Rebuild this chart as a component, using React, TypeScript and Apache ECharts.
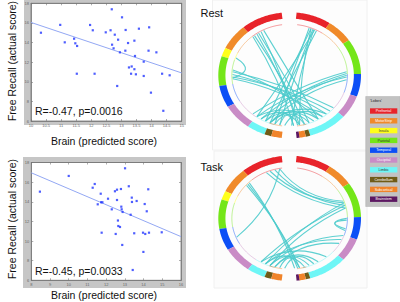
import React, { useEffect, useRef } from "react";
import * as echarts from "echarts";

// ---------- data ----------
const restPoints: number[][] = [
  [10.33, 15.0], [10.97, 15.8], [11.12, 14.02], [11.43, 14.39], [11.47, 13.92], [11.53, 13.65],
  [11.96, 15.79], [12.05, 15.25], [12.48, 15.04], [12.64, 15.25], [12.68, 17.39], [12.78, 14.8],
  [12.69, 13.78], [12.74, 13.41], [12.89, 14.29], [12.95, 13.0], [13.02, 16.57], [13.13, 13.17],
  [13.14, 15.28], [13.22, 13.95], [13.43, 14.19], [13.45, 12.63], [13.58, 15.41], [13.74, 12.05],
  [13.92, 15.55], [13.9, 13.17], [14.16, 13.0], [13.25, 11.46], [13.34, 11.56], [13.43, 11.28],
  [13.32, 10.82], [13.48, 10.76], [14.35, 10.82], [11.52, 10.82], [12.11, 10.82], [13.74, 10.59],
  [14.6, 10.66], [12.86, 9.57], [13.98, 8.89], [14.39, 7.04],
];
const restFit: number[][] = [[10, 16.05], [15, 10.9]];
const restStat = "R=-0.47, p=0.0016";

const taskPoints: number[][] = [
  [8.46, 15.03], [10.0, 16.63], [11.28, 15.43], [11.39, 15.81], [11.71, 14.82], [11.55, 13.74],
  [11.73, 13.95], [11.8, 13.95], [12.1, 14.31], [12.3, 13.23], [12.47, 15.07], [12.58, 15.23],
  [12.58, 14.18], [12.79, 15.3], [12.81, 13.5], [12.83, 13.23], [12.88, 12.96], [13.01, 17.41],
  [13.21, 15.58], [13.37, 14.42], [13.38, 13.98], [13.31, 12.68], [13.63, 14.08], [14.06, 13.77],
  [14.17, 13.03], [14.25, 15.27], [12.63, 12.09], [12.65, 11.53], [12.74, 11.43], [11.76, 10.85],
  [12.51, 10.72], [13.5, 10.79], [13.97, 10.85], [14.09, 10.72], [14.29, 10.85], [14.97, 10.89],
  [12.86, 9.6], [13.99, 8.89], [13.42, 7.05],
];
const taskFit: number[][] = [[8, 16.95], [16, 10.45]];
const taskStat = "R=-0.45, p=0.0033";

const yTitle = "Free Recall (actual score)";
const xTitle = "Brain (predicted score)";
const panelTitles = ["Rest", "Task"];

const lobeNames = ["Prefrontal", "MotorStrip", "Insula", "Parietal", "Temporal", "Occipital", "Limbic", "Cerebellum", "Subcortical", "Brainstem"];
const lobeColors = ["#e8232a", "#f08a2a", "#ffff1a", "#74e619", "#0c4ff6", "#c98cc6", "#6ef6f6", "#6f5b17", "#f0842a", "#5c1761"];
const lobeTextColors = ["#fff", "#fff", "#333", "#333", "#fff", "#fff", "#333", "#fff", "#fff", "#fff"];
const legendTitle = "'Lobes'";

// ring layout: angles in degrees clockwise from top
const leftEdges = [353.6, 319.5, 295.7, 287.5, 260.2, 240, 215.6, 200.6, 195, 186.4];
const leftLobes = [0, 1, 2, 3, 4, 5, 6, 7, 8];
const rightEdges = [5.6, 34.1, 56.2, 88.8, 109.7, 131.1, 163.2, 166.8, 172, 174.4];
const rightLobes = [0, 1, 3, 4, 5, 6, 7, 8, 9];

const restChords: number[][] = [
  [322, 165], [325, 170], [327, 160], [330, 172], [333, 150], [320, 176],
  [20, 195], [22, 205], [24, 190], [26, 215], [28, 200], [22, 170], [25, 178],
  [290, 267],
  [268, 135], [271, 140], [274, 130], [266, 145], [276, 150],
  [88, 210], [92, 215], [90, 205], [86, 220], [95, 200],
  [150, 200], [160, 205], [165, 195], [170, 210], [155, 215], [176, 190], [145, 185], [140, 200],
];
const taskChords: number[][] = [
  [313, 172], [315, 175], [311, 170],
  [340, 72], [345, 75], [350, 70], [336, 78],
  [72, 205], [75, 210], [78, 200],
  [248, 350],
  [92, 102], [90, 104],
  [200, 160], [195, 150], [205, 165], [210, 140], [190, 170], [185, 155],
  [200, 110], [205, 115], [195, 120],
];

// ---------- helpers ----------
const FONT = "Liberation Sans, Arial, sans-serif";
const R_OUT = 1.0;
const R_IN = 0.9;
const R_THIN = 0.81;
const R_CH = 0.8;
const K = 0.6;

function ringData() {
  const d: number[][] = [];
  for (let i = 0; i < leftLobes.length; i++) d.push([leftEdges[i], leftEdges[i + 1], leftLobes[i]]);
  for (let i = 0; i < rightLobes.length; i++) d.push([rightEdges[i], rightEdges[i + 1], rightLobes[i]]);
  return d;
}

function pt(api: any, deg: number, r: number) {
  const t = (deg * Math.PI) / 180;
  return api.coord([r * Math.sin(t), r * Math.cos(t)]);
}

function ringItem(_p: any, api: any) {
  const a1 = api.value(0), a2 = api.value(1), lobe = api.value(2);
  const n = Math.max(2, Math.ceil(Math.abs(a2 - a1)));
  const poly: number[][] = [];
  for (let i = 0; i <= n; i++) poly.push(pt(api, a1 + ((a2 - a1) * i) / n, R_OUT));
  for (let i = n; i >= 0; i--) poly.push(pt(api, a1 + ((a2 - a1) * i) / n, R_IN));
  const clamp = (a: number) => (a < 180 ? Math.min(172.5, Math.max(7.5, a)) : Math.min(352.5, Math.max(187.5, a)));
  const b1 = clamp(a1), b2 = clamp(a2);
  const thin: number[][] = [];
  const m = Math.max(2, Math.ceil(Math.abs(b2 - b1)));
  for (let i = 0; i <= m; i++) thin.push(pt(api, b1 + ((b2 - b1) * i) / m, R_THIN));
  const col = lobeColors[lobe];
  return {
    type: "group",
    children: [
      { type: "polygon", shape: { points: poly }, style: { fill: col, stroke: null } },
      { type: "polyline", shape: { points: thin }, style: { stroke: col, fill: null, lineWidth: 1, opacity: 0.45 } },
    ],
  };
}

function chordItem(_p: any, api: any) {
  const ta = (api.value(0) * Math.PI) / 180;
  const tb = (api.value(1) * Math.PI) / 180;
  const ua = [Math.sin(ta), Math.cos(ta)];
  const ub = [Math.sin(tb), Math.cos(tb)];
  const p1 = api.coord([R_CH * ua[0], R_CH * ua[1]]);
  const p2 = api.coord([R_CH * ub[0], R_CH * ub[1]]);
  const c = api.coord([((ua[0] + ub[0]) / 2) * K * R_CH, ((ua[1] + ub[1]) / 2) * K * R_CH]);
  return {
    type: "bezierCurve",
    shape: { x1: p1[0], y1: p1[1], x2: p2[0], y2: p2[1], cpx1: c[0], cpy1: c[1] },
    style: { stroke: "#4ccbcc", fill: null, lineWidth: 1.1, opacity: 0.9 },
  };
}

function scatterAxes(gridIndex: number, min: number, max: number, interval: number, isX: boolean) {
  const common = {
    gridIndex, type: "value", min, max, interval,
    axisLine: { show: true, lineStyle: { color: "#777", width: 0.8 } },
    axisTick: { show: true, inside: true, length: 2, lineStyle: { color: "#777", width: 0.6 } },
    splitLine: { show: false },
  };
  return [
    { ...common, position: isX ? "bottom" : "left", axisLabel: { show: true, fontSize: 4, color: "#666", margin: 2, fontFamily: FONT } },
    { ...common, position: isX ? "top" : "right", axisLabel: { show: false } },
  ];
}

function hiddenAxis(gridIndex: number) {
  return { gridIndex, type: "value", min: -1, max: 1, show: false, splitLine: { show: false } };
}

export default function App() {
  const ref = useRef<HTMLDivElement>(null);
  useEffect(() => {
    if (!ref.current) return;
    const chart = echarts.init(ref.current, null, { renderer: "svg" });
    const txt = (text: string, x: number, y: number, size: number, extra: any = {}) => ({
      type: "text", x, y, z: 20,
      style: { text, fontSize: size, fontFamily: FONT, fill: "#111", align: "left", verticalAlign: "middle", ...(extra.style || {}) },
      ...(extra.el || {}),
    });

    const legendItems: any[] = [];
    lobeNames.forEach((name, i) => {
      const y = 108.3 + i * 9.8;
      legendItems.push({ type: "rect", z: 21, shape: { x: 370, y, width: 27.3, height: 5.4 }, style: { fill: lobeColors[i] } });
      legendItems.push({
        type: "text", z: 22, x: 383.6, y: y + 2.8,
        style: { text: name, fontSize: 3.6, fontFamily: FONT, fill: lobeTextColors[i], align: "center", verticalAlign: "middle" },
      });
    });

    const option: any = {
      animation: false,
      grid: [
        { left: 31, top: 3.3, width: 150.7, height: 117.7, show: true, backgroundColor: "#fff", borderColor: "#777", borderWidth: 0.8 },
        { left: 31.3, top: 162.5, width: 149.7, height: 117.8, show: true, backgroundColor: "#fff", borderColor: "#777", borderWidth: 0.8 },
        { left: 218.3, top: 12.3, width: 142.7, height: 126, show: false },
        { left: 218.3, top: 155.7, width: 142.7, height: 125.3, show: false },
      ],
      xAxis: [
        ...scatterAxes(0, 10, 15, 0.5, true),
        ...scatterAxes(1, 8, 16, 1, true),
        hiddenAxis(2),
        hiddenAxis(3),
      ],
      yAxis: [
        ...scatterAxes(0, 6, 18, 2, false),
        ...scatterAxes(1, 6, 18, 2, false),
        hiddenAxis(2),
        hiddenAxis(3),
      ],
      series: [
        { type: "line", xAxisIndex: 0, yAxisIndex: 0, data: restFit, symbol: "none", lineStyle: { color: "#93a8f4", width: 1 }, z: 3 },
        { type: "scatter", xAxisIndex: 0, yAxisIndex: 0, data: restPoints, symbol: "rect", symbolSize: 2.2, itemStyle: { color: "#2236ff" }, z: 4 },
        { type: "line", xAxisIndex: 2, yAxisIndex: 2, data: taskFit, symbol: "none", lineStyle: { color: "#93a8f4", width: 1 }, z: 3 },
        { type: "scatter", xAxisIndex: 2, yAxisIndex: 2, data: taskPoints, symbol: "rect", symbolSize: 2.2, itemStyle: { color: "#2236ff" }, z: 4 },
        { type: "custom", xAxisIndex: 4, yAxisIndex: 4, data: restChords, renderItem: chordItem, z: 3 },
        { type: "custom", xAxisIndex: 4, yAxisIndex: 4, data: ringData(), renderItem: ringItem, z: 4 },
        { type: "custom", xAxisIndex: 5, yAxisIndex: 5, data: taskChords, renderItem: chordItem, z: 3 },
        { type: "custom", xAxisIndex: 5, yAxisIndex: 5, data: ringData(), renderItem: ringItem, z: 4 },
      ],
      graphic: [
        { type: "rect", z: -10, shape: { x: 24, y: 0, width: 162, height: 125 }, style: { fill: "#c6c6c6" } },
        { type: "rect", z: -10, shape: { x: 23, y: 157, width: 163, height: 131 }, style: { fill: "#c6c6c6" } },
        { type: "rect", z: -10, shape: { x: 212.5, y: 0, width: 154.5, height: 150 }, style: { fill: "#fdfdfd", stroke: "#f0f0f0", lineWidth: 1 } },
        { type: "rect", z: -10, shape: { x: 214, y: 151, width: 153, height: 137 }, style: { fill: "#fcfcfc", stroke: "#f0f0f0", lineWidth: 1 } },
        txt(yTitle, 12, 61, 10.5, { el: { rotation: Math.PI / 2 }, style: { align: "center" } }),
        txt(yTitle, 12, 219, 10.5, { el: { rotation: Math.PI / 2 }, style: { align: "center" } }),
        txt(xTitle, 104, 140.5, 10.5, { style: { align: "center" } }),
        txt(xTitle, 104, 295, 10.5, { style: { align: "center" } }),
        txt(restStat, 35, 111, 10.5),
        txt(taskStat, 35, 271, 10.5),
        txt(panelTitles[0], 200.5, 13.3, 11),
        txt(panelTitles[1], 200.5, 166.7, 11),
        { type: "rect", z: 20, shape: { x: 365.7, y: 96.5, width: 34.3, height: 110 }, style: { fill: "#c2c2c2", stroke: "#b0b0b0", lineWidth: 0.5 } },
        { type: "text", z: 22, x: 370, y: 100.5, style: { text: legendTitle, fontSize: 3.8, fontFamily: FONT, fill: "#222", align: "left", verticalAlign: "middle" } },
        ...legendItems,
      ],
    };
    chart.setOption(option);
    return () => chart.dispose();
  }, []);
  return <div ref={ref} style={{ position: "fixed", left: 0, top: 0, width: 400, height: 302, background: "#fff" }} />;
}
